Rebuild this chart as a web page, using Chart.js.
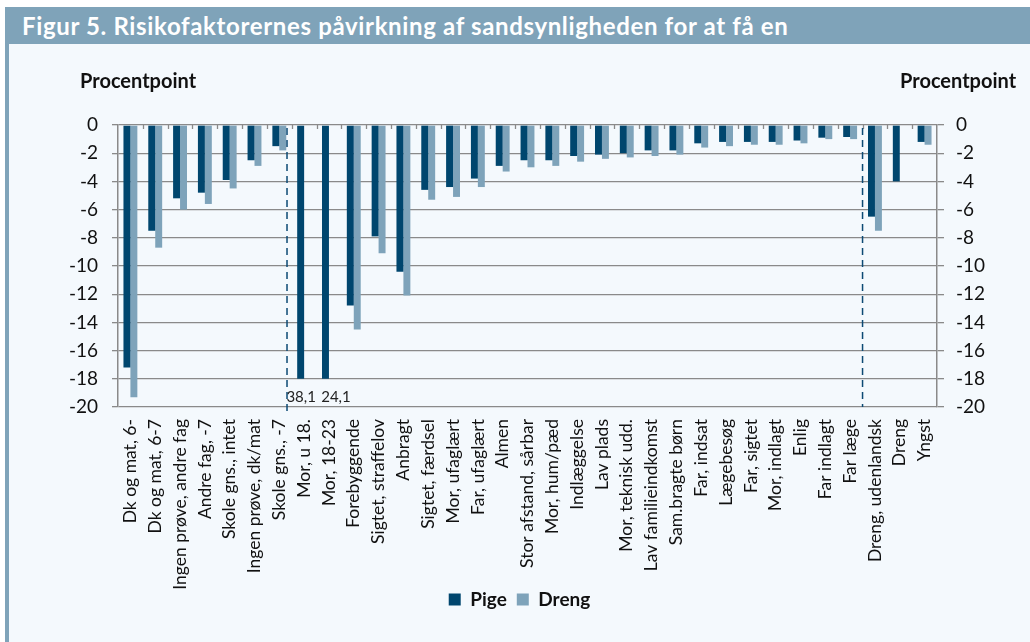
<!DOCTYPE html>
<html lang="da">
<head>
<meta charset="UTF-8" />
<title>Figur 5</title>
<script src="https://cdn.jsdelivr.net/npm/chart.js"></script>
<style>
  body { margin: 0; background: #fff; font-family: Lato, sans-serif; }
  #title {
    position: absolute; left: 5px; top: 7px; width: 1025px; height: 37px;
    background: #7fa3b9; color: #fff; font: bold 24px Lato, sans-serif; letter-spacing: 0.65px;
    line-height: 38px; padding-left: 17px; box-sizing: border-box; white-space: nowrap;
  }
  #panel {
    position: absolute; left: 5px; top: 44px; width: 1025px; height: 598px;
    background: #f4f9fd; border-left: 4px solid #7fa3b9; box-sizing: border-box;
  }
  #wrap { position: relative; width: 1021px; height: 598px; }
</style>
</head>
<body>
<div id="title">Figur 5. Risikofaktorernes påvirkning af sandsynligheden for at få en</div>
<div id="panel"><div id="wrap"><canvas id="chart"></canvas></div></div>
<script>
const categories = [
  "Dk og mat, 6-", "Dk og mat, 6-7", "Ingen prøve, andre fag", "Andre fag, -7",
  "Skole gns., intet", "Ingen prøve, dk/mat", "Skole gns., -7", "Mor, u 18.",
  "Mor, 18-23", "Forebyggende", "Sigtet, straffelov", "Anbragt", "Sigtet, færdsel",
  "Mor, ufaglært", "Far, ufaglært", "Almen", "Stor afstand, sårbar", "Mor, hum/pæd",
  "Indlæggelse", "Lav plads", "Mor, teknisk udd.", "Lav familieindkomst",
  "Sam.bragte børn", "Far, indsat", "Lægebesøg", "Far, sigtet", "Mor, indlagt",
  "Enlig", "Far indlagt", "Far læge", "Dreng, udenlandsk", "Dreng", "Yngst"
];
const pige = [-17.2, -7.5, -5.2, -4.8, -3.9, -2.5, -1.5, -38.1, -24.1, -12.8, -7.9, -10.4,
  -4.6, -4.4, -3.8, -2.9, -2.5, -2.5, -2.2, -2.1, -2.0, -1.8, -1.8, -1.3, -1.2, -1.2,
  -1.2, -1.1, -0.9, -0.85, -6.5, -4.0, -1.2];
const dreng = [-19.3, -8.7, -6.0, -5.6, -4.5, -2.9, -1.8, null, null, -14.5, -9.1, -12.1,
  -5.3, -5.1, -4.4, -3.3, -3.0, -2.9, -2.6, -2.4, -2.3, -2.2, -2.1, -1.6, -1.5, -1.4,
  -1.4, -1.3, -1.0, -1.0, -7.5, null, -1.4];
const yTicks = [0, -2, -4, -6, -8, -10, -12, -14, -16, -18, -20];
const axisMin = -20;
// bars beyond the axis are cut off here and get their value written underneath
const cutTo = -18;
// dashed separators (category positions)
const separators = [6.31, 29.5];
const cutLabelShift = [-3, 7];

const cut = v => (v === null ? null : (v < axisMin ? cutTo : v));
const pigeShown = pige.map(cut);
const drengShown = dreng.map(cut);

const GRID = "#8a8a8a";

const extras = {
  id: "extras",
  afterLayout(chart) {
    // long category labels run past the axis box into the legend strip
    chart.scales.x.bottom = chart.height;
  },
  afterDatasetsDraw(chart) {
    const { ctx, chartArea: a, scales: { x, y } } = chart;
    ctx.save();
    // small inward tick marks on the zero line
    ctx.strokeStyle = GRID;
    ctx.lineWidth = 1.3;
    for (let i = 1; i < categories.length; i++) {
      const px = Math.round(x.getPixelForValue(i - 0.5)) + 0.5;
      ctx.beginPath();
      ctx.moveTo(px, a.top);
      ctx.lineTo(px, a.top + 4);
      ctx.stroke();
    }
    // dashed separators
    ctx.strokeStyle = "#0d4a74";
    ctx.lineWidth = 1.5;
    ctx.setLineDash([7, 5]);
    separators.forEach((s, k) => {
      const px = x.getPixelForValue(s);
      ctx.beginPath();
      ctx.moveTo(px, a.top + 3);
      ctx.lineTo(px, a.bottom + (k === 0 ? 4 : 0));
      ctx.stroke();
    });
    ctx.setLineDash([]);
    // values of cut bars
    ctx.fillStyle = "#222";
    ctx.font = "15px Lato";
    ctx.textAlign = "center";
    ctx.textBaseline = "middle";
    let n = 0;
    pige.forEach((v, i) => {
      if (v !== null && v < axisMin) {
        const txt = Math.abs(v).toFixed(1).replace(".", ",");
        ctx.fillText(txt, x.getPixelForValue(i) + cutLabelShift[n++], y.getPixelForValue(-19.3));
      }
    });
    // axis titles
    ctx.fillStyle = "#111";
    ctx.font = "bold 20px Lato";
    ctx.textAlign = "left";
    ctx.fillText("Procentpoint", 71, 38);
    ctx.fillText("Procentpoint", 891, 38);
    ctx.restore();
  }
};

new Chart(document.getElementById("chart"), {
  type: "bar",
  data: {
    labels: categories,
    datasets: [
      { label: "Pige", data: pigeShown, backgroundColor: "#00466e" },
      { label: "Dreng", data: drengShown, backgroundColor: "#7ea3ba" }
    ]
  },
  options: {
    responsive: true,
    maintainAspectRatio: false,
    animation: false,
    categoryPercentage: 0.56,
    barPercentage: 1,
    layout: { padding: { top: 81, bottom: 23, left: 0, right: 0 } },
    font: { family: "Lato" },
    plugins: {
      legend: {
        position: "bottom",
        labels: {
          boxWidth: 12, boxHeight: 12, padding: 10,
          color: "#111", font: { family: "Lato", size: 19, weight: "bold" }
        }
      },
      tooltip: { enabled: false }
    },
    scales: {
      x: {
        grid: { display: false, drawTicks: false },
        border: { display: false },
        ticks: {
          autoSkip: false, maxRotation: 90, minRotation: 90, padding: 12,
          color: "#111", font: { family: "Lato", size: 17.5 }
        },
        afterFit(s) { s.height = 173; }
      },
      y: {
        min: axisMin, max: 0,
        afterBuildTicks(s) { s.ticks = yTicks.map(v => ({ value: v })); },
        grid: { color: GRID, lineWidth: 1.3, tickLength: 6 },
        border: { display: true, color: GRID, width: 1.5 },
        ticks: { padding: 14, color: "#111", font: { family: "Lato", size: 19 } },
        afterFit(s) { s.width = 109; }
      },
      y2: {
        position: "right",
        min: axisMin, max: 0,
        afterBuildTicks(s) { s.ticks = yTicks.map(v => ({ value: v })); },
        grid: { drawOnChartArea: false, color: GRID, lineWidth: 1.3, tickLength: 7 },
        border: { display: true, color: GRID, width: 1.5 },
        ticks: { padding: 12, color: "#111", font: { family: "Lato", size: 19 } },
        afterFit(s) { s.width = 93; }
      }
    }
  },
  plugins: [extras]
});
</script>
</body>
</html>
